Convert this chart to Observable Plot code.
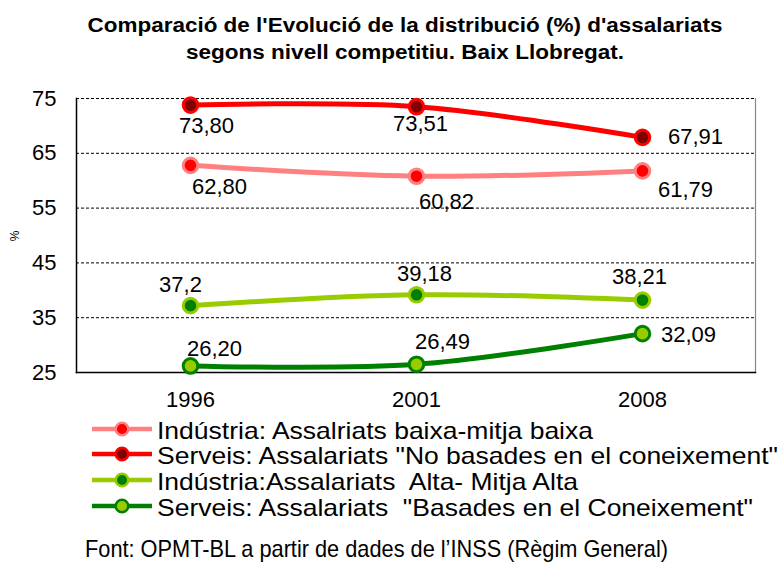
<!DOCTYPE html>
<html><head><meta charset="utf-8">
<script src="https://cdn.jsdelivr.net/npm/d3@7"></script>
<script src="https://cdn.jsdelivr.net/npm/@observablehq/plot@0.6"></script>
<style>
body{margin:0;background:#fff;}
#chart{width:780px;height:562px;}
</style>
</head><body><div id="chart"></div>
<script>
// ---- data ----
const titleLines = ["Comparació de l'Evolució de la distribució (%) d'assalariats", "segons nivell competitiu. Baix Llobregat."];
const yLabel = "%";
const caption = "Font: OPMT-BL a partir de dades de l\u2019INSS (Règim General)";
const years = ["1996", "2001", "2008"];
const seriesNames = [
  "Indústria: Assalriats baixa-mitja baixa",
  "Serveis: Assalariats \"No basades en el coneixement\"",
  "Indústria:Assalariats  Alta- Mitja Alta",
  "Serveis: Assalariats  \"Basades en el Coneixement\""
];
const industriaBaixa = [62.80, 60.82, 61.79];
const serveisNoBasades = [73.80, 73.51, 67.91];
const industriaAlta = [37.2, 39.18, 38.21];
const serveisBasades = [26.20, 26.49, 32.09];
const labelsIndustriaBaixa = ["62,80", "60,82", "61,79"];
const labelsServeisNoBasades = ["73,80", "73,51", "67,91"];
const labelsIndustriaAlta = ["37,2", "39,18", "38,21"];
const labelsServeisBasades = ["26,20", "26,49", "32,09"];
const yTicks = [25, 35, 45, 55, 65, 75];

// ---- styling / layout ----
const styles = [
  {line: "#ff8080", fill: "#ff0000", stroke: "#ff8080"},
  {line: "#ff0000", fill: "#800000", stroke: "#ff0000"},
  {line: "#99cc00", fill: "#008000", stroke: "#99cc00"},
  {line: "#008000", fill: "#99cc00", stroke: "#008000"}
];
const labelOffsets = [
  [[29, 22], [30, 26], [43, 19]],
  [[16, 21], [4, 17], [53, 0]],
  [[-10, -21], [8, -21], [-3, -23]],
  [[24, -17], [26, -22], [46, 1]]
];
const valueSets = [industriaBaixa, serveisNoBasades, industriaAlta, serveisBasades];
const labelSets = [labelsIndustriaBaixa, labelsServeisNoBasades, labelsIndustriaAlta, labelsServeisBasades];

const rows = [];
seriesNames.forEach((s, si) => {
  years.forEach((y, yi) => {
    rows.push({series: s, si, year: y, yi, value: valueSets[si][yi], label: labelSets[si][yi]});
  });
});

const font = "Liberation Sans, Arial, sans-serif";

const marks = [
  Plot.ruleY([35, 45, 55, 65, 75], {stroke: "#000", strokeDasharray: "3,2", strokeWidth: 1}),
  Plot.frame({anchor: "right", stroke: "#888", strokeWidth: 1.2}),
  Plot.axisY({ticks: yTicks, tickSize: 0, tickPadding: 20, fontSize: 22, fontFamily: font, label: null}),
  Plot.axisX({tickSize: 0, tickPadding: 19, fontSize: 22, fontFamily: font, label: null}),
  Plot.frame({anchor: "left", stroke: "#000", strokeWidth: 1.5}),
  Plot.frame({anchor: "bottom", stroke: "#000", strokeWidth: 1.5})
];
seriesNames.forEach((s, si) => {
  const d = rows.filter(r => r.si === si);
  marks.push(Plot.line(d, {x: "year", y: "value", stroke: styles[si].line, strokeWidth: 5, curve: "catmull-rom"}));
});
seriesNames.forEach((s, si) => {
  const d = rows.filter(r => r.si === si);
  marks.push(Plot.dot(d, {x: "year", y: "value", r: 7.3, fill: styles[si].fill, stroke: styles[si].stroke, strokeWidth: 3}));
});
rows.forEach(r => {
  const [dx, dy] = labelOffsets[r.si][r.yi];
  marks.push(Plot.text([r], {x: "year", y: "value", text: "label", dx, dy, fontSize: 22, fontFamily: font, fill: "#000", textAnchor: "middle"}));
});

const svg = Plot.plot({
  width: 780, height: 562,
  marginTop: 98, marginBottom: 190, marginLeft: 76, marginRight: 25,
  style: {fontFamily: font, fontSize: "22px", color: "#000", background: "#fff", overflow: "visible"},
  x: {type: "point", domain: years, padding: 0.5, label: null},
  y: {domain: [25, 75], label: null},
  marks
});
document.getElementById("chart").appendChild(svg);

const s = d3.select(svg);
// title
const titleBase = [32, 59];
const titleLen = [635, 438];
titleLines.forEach((t, i) => {
  s.append("text").attr("x", 405).attr("y", titleBase[i]).attr("text-anchor", "middle")
    .attr("font-family", font).attr("font-weight", "bold").attr("font-size", 20).attr("fill", "#000")
    .attr("textLength", titleLen[i]).attr("lengthAdjust", "spacingAndGlyphs").text(t);
});
// y label
s.append("text").attr("transform", "translate(19,236) rotate(-90)").attr("text-anchor", "middle")
  .attr("font-family", font).attr("font-size", 12).attr("fill", "#000").text(yLabel);
// legend
const legBase = [439, 464, 490, 516];
const legLen = [436, 621, 421, 596];
seriesNames.forEach((name, i) => {
  const cy = legBase[i] - 10;
  s.append("line").attr("x1", 92).attr("x2", 152).attr("y1", cy).attr("y2", cy)
    .attr("stroke", styles[i].line).attr("stroke-width", 4.5);
  s.append("circle").attr("cx", 122).attr("cy", cy).attr("r", 6.3)
    .attr("fill", styles[i].fill).attr("stroke", styles[i].stroke).attr("stroke-width", 2.5);
  s.append("text").attr("x", 157).attr("y", legBase[i]).attr("text-anchor", "start")
    .attr("font-family", font).attr("font-size", 24)
    .attr("fill", "#000").style("white-space", "pre")
    .attr("textLength", legLen[i]).attr("lengthAdjust", "spacingAndGlyphs").text(name);
});
// caption
s.append("text").attr("x", 85).attr("y", 557).attr("text-anchor", "start")
  .attr("font-family", "Liberation Sans Narrow, Liberation Sans, Arial, sans-serif")
  .attr("font-size", 24).attr("fill", "#000")
  .attr("textLength", 583).attr("lengthAdjust", "spacingAndGlyphs").text(caption);
</script>
</body></html>
